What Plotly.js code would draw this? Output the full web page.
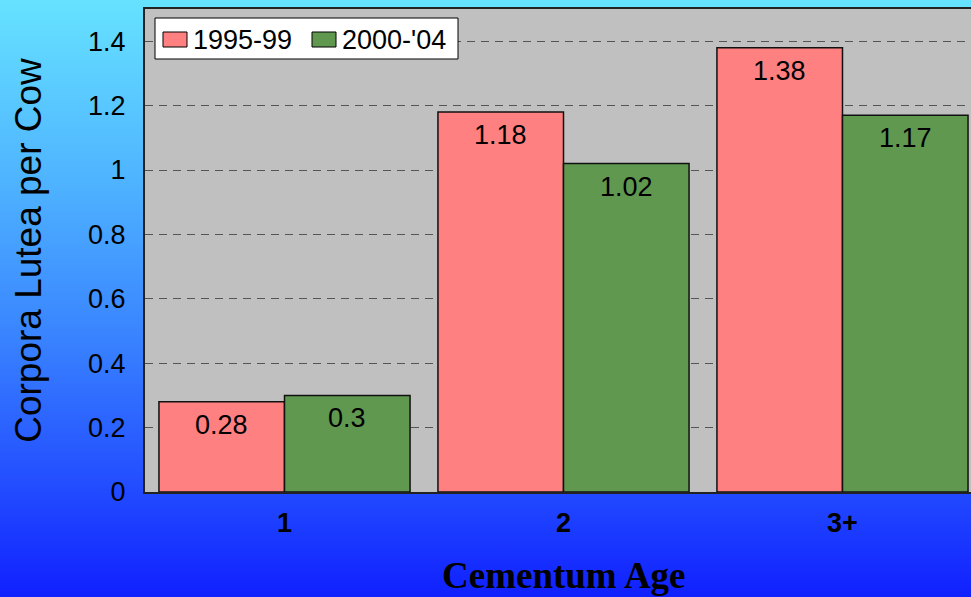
<!DOCTYPE html>
<html>
<head>
<meta charset="utf-8">
<script src="https://cdn.plot.ly/plotly-3.0.1.min.js"></script>
<style>
  html, body { margin: 0; padding: 0; }
  #wrap { width: 971px; height: 597px; background: linear-gradient(to bottom, #66e2ff 0%, #4fb4ff 30%, #3a86ff 55%, #2450ff 80%, #1020ff 100%); }
  #chart { width: 971px; height: 597px; }
</style>
</head>
<body>
<div id="wrap"><div id="chart"></div></div>
<script>
const categories = ["1", "2", "3+"];
const seriesNames = ["1995-99", "2000-'04"];
const values1995 = [0.28, 1.18, 1.38];
const values2000 = [0.3, 1.02, 1.17];
const yTicks = [0, 0.2, 0.4, 0.6, 0.8, 1, 1.2, 1.4];
const yTickText = ["0", "0.2", "0.4", "0.6", "0.8", "1", "1.2", "1.4"];

const colors = ["#ff8080", "#609850"];
const font = "Arial, 'Liberation Sans', sans-serif";

const traces = [values1995, values2000].map((vals, k) => ({
  type: "bar",
  name: seriesNames[k],
  x: categories,
  y: vals,
  marker: { color: colors[k], line: { color: "#111", width: 1.5 } },
  hoverinfo: "none",
  showlegend: false
}));

const annotations = [];
[values1995, values2000].forEach((vals, k) => {
  vals.forEach((v, i) => {
    annotations.push({
      x: i + (k === 0 ? -0.225 : 0.225), xref: "x",
      y: v, yref: "y", yanchor: "top", yshift: -6,
      text: String(v), showarrow: false,
      font: { family: font, size: 27, color: "#000" }
    });
  });
});
annotations.push({
  x: 1, xref: "x", y: -0.172, yref: "paper", yanchor: "middle",
  text: "<b>Cementum Age</b>", showarrow: false,
  font: { family: "'Times New Roman', 'Liberation Serif', serif", size: 37, color: "#000" }
});

// custom legend (box, swatches, labels) in paper coordinates
const L = 145, W = 826, B = 492, H = 483;
const px = v => (v - L) / W;
const py = v => (B - v) / H;
const shapes = [{
  type: "rect", xref: "paper", yref: "paper",
  x0: px(155), x1: px(458), y0: py(59), y1: py(18),
  fillcolor: "#fff", line: { color: "#000", width: 1 }
}];
const swatchX = [163, 312];
seriesNames.forEach((name, k) => {
  shapes.push({
    type: "rect", xref: "paper", yref: "paper",
    x0: px(swatchX[k]), x1: px(swatchX[k] + 24), y0: py(47), y1: py(32),
    fillcolor: colors[k], line: { color: "#000", width: 1 }
  });
  annotations.push({
    xref: "paper", yref: "paper", x: px(swatchX[k] + 28), y: py(39.5),
    xanchor: "left", yanchor: "middle", showarrow: false, text: name,
    font: { family: font, size: 27, color: "#000" }
  });
});

const layout = {
  width: 971, height: 597,
  margin: { l: 145, r: 0, t: 9, b: 105 },
  paper_bgcolor: "rgba(0,0,0,0)",
  plot_bgcolor: "#c0c0c0",
  barmode: "group",
  bargap: 0.1,
  bargroupgap: 0,
  showlegend: false,
  xaxis: {
    type: "category",
    range: [-0.5, 2.4606],
    showline: true, linecolor: "#222", linewidth: 2, mirror: true,
    ticks: "", ticklabelstandoff: 6,
    tickfont: { family: font, size: 27, color: "#000", weight: "bold" },
    showgrid: false, fixedrange: true
  },
  yaxis: {
    range: [0, 1.5],
    tickvals: yTicks, ticktext: yTickText,
    showline: true, linecolor: "#222", linewidth: 2, mirror: true,
    ticks: "", ticklabelstandoff: 12,
    tickfont: { family: font, size: 27, color: "#000" },
    showgrid: true, gridcolor: "#555", gridwidth: 1, griddash: "8px,6px",
    zeroline: false,
    title: { text: "Corpora Lutea per Cow", font: { family: font, size: 37, color: "#000" }, standoff: 35 },
    fixedrange: true
  },
  shapes: shapes,
  annotations: annotations
};

Plotly.newPlot("chart", traces, layout, { displayModeBar: false, staticPlot: true });
</script>
</body>
</html>
